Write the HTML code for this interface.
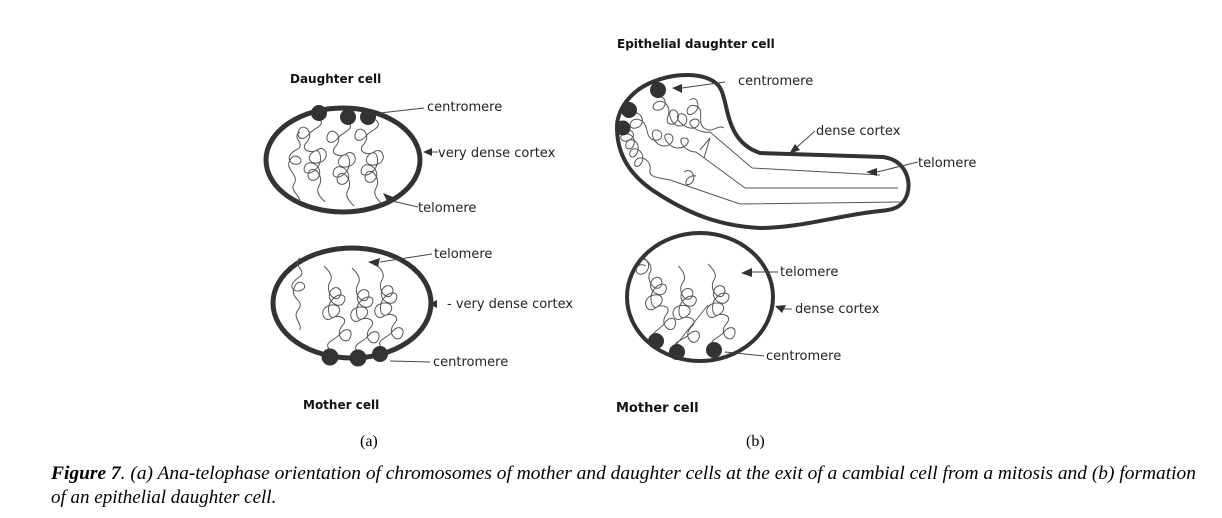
<!DOCTYPE html>
<html><head><meta charset="utf-8"><style>
html,body{margin:0;padding:0;background:#fff;width:1222px;height:518px;overflow:hidden}
svg{display:block}
.l{font-family:"DejaVu Sans","Liberation Sans",sans-serif;font-size:13px;fill:#222}
.h{font-family:"DejaVu Sans","Liberation Sans",sans-serif;font-size:12px;font-weight:bold;fill:#111}
.cap{font-family:"Liberation Serif",serif;font-size:19px;font-style:italic;fill:#000}
.sq{fill:none;stroke:#555;stroke-width:1}
.ln{stroke:#444;stroke-width:1}
</style></head><body>
<svg width="1222" height="518" viewBox="0 0 1222 518" xmlns="http://www.w3.org/2000/svg">
<defs>
<path id="ch" d="M0 0 c8 8 -6 10 -10 16 c-6 8 -14 4 -10 -4 c4 -8 16 2 8 12 c-8 8 4 12 10 8 c8 -6 14 8 4 12 c-10 4 -16 -4 -8 -10 c8 -6 10 10 4 16 c-6 8 -16 6 -12 -2 c4 -8 18 0 14 10 c-4 8 -14 4 -10 -4 c4 -8 16 4 10 14 c-4 6 2 12 6 16"/>
</defs>
<!-- (a) -->
<text class="h" x="290" y="83">Daughter cell</text>
<ellipse cx="343" cy="160" rx="77" ry="52" fill="none" stroke="#333" stroke-width="5"/>
<g class="sq">
<use href="#ch" x="319" y="118"/><use href="#ch" x="348" y="122"/><use href="#ch" x="376" y="120"/>
<path d="M300 132 c-10 6 8 12 -4 18 c-12 6 -6 16 2 14 c8 -2 -2 -14 -8 -4 c-6 10 10 14 4 24 c-4 6 4 10 6 16"/>
</g>
<circle cx="319" cy="113" r="8" fill="#333"/><circle cx="348" cy="117" r="8" fill="#333"/><circle cx="368" cy="117" r="8" fill="#333"/>
<line class="ln" x1="380" y1="113" x2="424" y2="108"/><text class="l" x="427" y="111">centromere</text>
<line class="ln" x1="430" y1="152" x2="438" y2="152"/><polygon points="423,152 432,148 432,156" fill="#333"/><text class="l" x="438" y="157">very dense cortex</text>
<polygon points="383,193 393,197 389,205" fill="#333"/><line class="ln" x1="392" y1="201" x2="418" y2="207"/><text class="l" x="418" y="212">telomere</text>

<ellipse cx="352" cy="303" rx="79" ry="55" fill="none" stroke="#333" stroke-width="5"/>
<g class="sq">
<use href="#ch" x="330" y="350" transform="rotate(180 330 350)"/>
<use href="#ch" x="358" y="352" transform="rotate(180 358 352)"/>
<use href="#ch" x="382" y="348" transform="rotate(180 382 348)"/>
<path d="M300 258 c-10 8 10 12 -2 20 c-12 8 -4 16 4 12 c8 -4 -4 -14 -8 -2 c-4 12 12 12 4 22 c-6 8 4 12 2 20"/>
</g>
<circle cx="330" cy="357" r="8.5" fill="#333"/><circle cx="358" cy="358" r="8.5" fill="#333"/><circle cx="380" cy="354" r="8" fill="#333"/>
<polygon points="368,262 380,258 378,267" fill="#333"/><line class="ln" x1="380" y1="262" x2="432" y2="254"/><text class="l" x="434" y="258">telomere</text>
<polygon points="429,304 437,300 437,308" fill="#333"/><text class="l" x="447" y="308">- very dense cortex</text>
<line class="ln" x1="390" y1="361" x2="430" y2="362"/><text class="l" x="433" y="366">centromere</text>
<text class="h" x="303" y="409">Mother cell</text>
<text x="360" y="446" font-family="Liberation Serif,serif" font-size="16">(a)</text>

<!-- (b) -->
<text class="h" x="617" y="48">Epithelial daughter cell</text>
<path d="M650 83 C675 72 705 72 718 85 C730 98 722 140 760 153 L883 157 C905 160 912 180 907 195 C903 206 895 210 880 211 C840 215 800 228 760 228 C720 226 690 214 660 195 C635 180 618 160 617 130 C616 110 630 92 650 83 Z" fill="none" stroke="#333" stroke-width="4"/>
<g class="sq">
<path d="M752 168 L880 175 M745 188 L898 188 M740 204 L900 202"/>
<path d="M630 130 c10 6 -4 14 -8 10 c-6 -6 10 -10 12 0 c2 10 -10 12 -8 4 c2 -8 14 -4 12 6 c-2 10 -10 8 -8 2 c4 -8 16 0 12 10 c-4 8 -10 4 -6 -2 c6 -6 16 2 14 10 c-2 8 12 8 20 10 L740 204"/>
<path d="M632 112 c12 0 14 14 4 16 c-10 2 -6 -12 4 -8 c10 4 4 18 14 20 c10 2 10 -10 2 -10 c-8 0 -2 16 8 16 c10 0 12 -12 4 -12 c-8 0 0 14 10 14 c10 0 14 -10 6 -10 c-8 0 0 14 12 14 L745 188"/>
<path d="M660 96 c10 4 4 16 -4 14 c-8 -2 2 -14 10 -6 c8 8 -4 18 4 20 c8 2 12 -12 4 -14 c-8 -2 -4 16 6 16 c10 0 8 -14 0 -12 c-8 2 4 16 14 14 c8 -2 6 -12 -2 -8 c-8 4 8 14 18 12 L752 168"/>
<path d="M690 100 c8 -6 12 10 2 14 c-8 4 -6 -12 4 -8 c10 4 0 16 8 22 c8 6 14 -4 20 0 M684 172 c8 -6 14 8 6 12 c-8 4 -4 -10 6 -8 M700 150 l10 -12 l-6 20"/>
</g>
<circle cx="658" cy="90" r="8" fill="#333"/><circle cx="629" cy="110" r="8" fill="#333"/><circle cx="623" cy="128" r="7.5" fill="#333"/>
<polygon points="672,88 682,84 682,93" fill="#333"/><line class="ln" x1="682" y1="88" x2="725" y2="82"/><text class="l" x="738" y="85">centromere</text>
<polygon points="789,154 795,144 800,150" fill="#333"/><line class="ln" x1="797" y1="147" x2="815" y2="131"/><text class="l" x="816" y="135">dense cortex</text>
<polygon points="866,172 877,168 877,176" fill="#333"/><line class="ln" x1="877" y1="172" x2="918" y2="162"/><text class="l" x="918" y="167">telomere</text>

<ellipse cx="700" cy="297" rx="73" ry="64" fill="none" stroke="#333" stroke-width="4"/>
<g class="sq">
<use href="#ch" x="656" y="340" transform="rotate(175 656 340)"/>
<use href="#ch" x="677" y="350" transform="rotate(185 677 350)"/>
<use href="#ch" x="714" y="348" transform="rotate(180 714 348)"/>
<path d="M676 345 L708 305 M640 260 c10 -4 12 12 2 14 c-10 2 -6 -14 4 -8"/>
</g>
<circle cx="656" cy="341" r="8" fill="#333"/><circle cx="677" cy="352" r="8" fill="#333"/><circle cx="714" cy="350" r="8" fill="#333"/>
<polygon points="741,273 752,268 752,277" fill="#333"/><line class="ln" x1="752" y1="272" x2="778" y2="272"/><text class="l" x="780" y="276">telomere</text>
<polygon points="775,306 786,305 782,313" fill="#333"/><line class="ln" x1="784" y1="309" x2="792" y2="309"/><text class="l" x="795" y="313">dense cortex</text>
<line class="ln" x1="725" y1="352" x2="764" y2="356"/><text class="l" x="766" y="360">centromere</text>
<text class="h" x="616" y="412" style="font-size:13px">Mother cell</text>
<text x="746" y="446" font-family="Liberation Serif,serif" font-size="16">(b)</text>

<text class="cap" x="51" y="479" textLength="1145" lengthAdjust="spacingAndGlyphs"><tspan font-weight="bold">Figure 7</tspan>. (a) Ana-telophase orientation of chromosomes of mother and daughter cells at the exit of a cambial cell from a mitosis and (b) formation</text>
<text class="cap" x="51" y="503">of an epithelial daughter cell.</text>
</svg>
</body></html>
